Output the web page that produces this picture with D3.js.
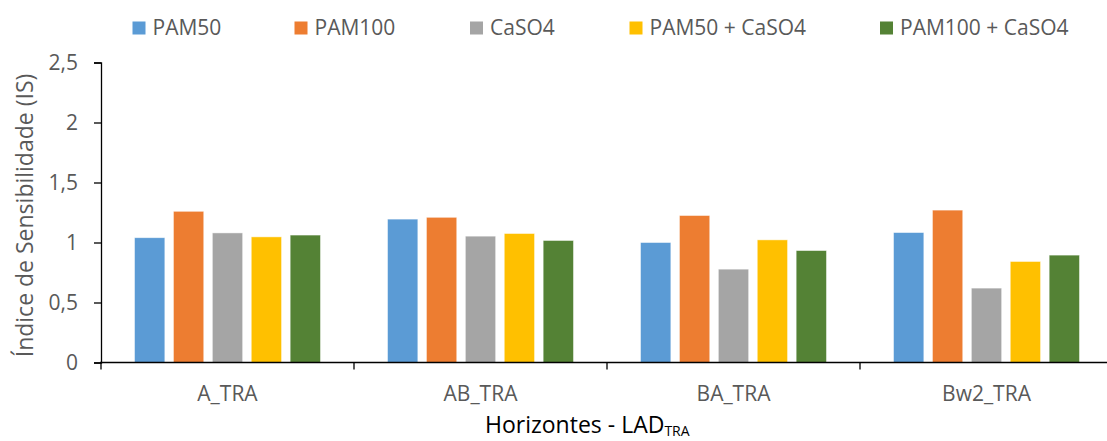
<!DOCTYPE html>
<html>
<head>
<meta charset="utf-8">
<script src="https://cdn.jsdelivr.net/npm/d3@7"></script>
<style>
  html, body { margin: 0; padding: 0; background: #fff; }
  svg { display: block; }
  text { font-family: "Open Sans", "Noto Sans", sans-serif; }
</style>
</head>
<body>
<svg id="chart" width="1107" height="441"></svg>
<script>
// Horizons (categories on the x axis)
const horizons = ["A_TRA", "AB_TRA", "BA_TRA", "Bw2_TRA"];
// Treatments (series)
const treatments = ["PAM50", "PAM100", "CaSO4", "PAM50 + CaSO4", "PAM100 + CaSO4"];
const colors = ["#5B9BD5", "#ED7D31", "#A5A5A5", "#FFC000", "#548235"];
// Sensitivity index per treatment, one value per horizon
const pam50       = [1.04, 1.195, 1.00, 1.083];
const pam100      = [1.26, 1.21, 1.225, 1.27];
const caso4       = [1.08, 1.053, 0.778, 0.62];
const pam50caso4  = [1.047, 1.075, 1.022, 0.842];
const pam100caso4 = [1.062, 1.017, 0.933, 0.895];
const yTicks = [0, 0.5, 1, 1.5, 2, 2.5];

const series = [pam50, pam100, caso4, pam50caso4, pam100caso4];

const svg = d3.select("#chart");
const mLeft = 101, mRight = 1113, mTop = 62.5, mBottom = 362.5;

const x = d3.scaleBand().domain(horizons).range([mLeft, mRight]).paddingInner(0).paddingOuter(0);
const inner = d3.scaleBand().domain(d3.range(treatments.length))
  .range([33.5, x.bandwidth() - 33.5]).paddingInner(0.22).paddingOuter(0);
const y = d3.scaleLinear().domain([0, 2.5]).range([mBottom, mTop]);

// Bars
const groups = svg.append("g").selectAll("g")
  .data(horizons).join("g")
  .attr("transform", d => `translate(${x(d)},0)`);
groups.selectAll("rect")
  .data((h, i) => series.map((s, k) => ({ k, v: s[i] })))
  .join("rect")
  .attr("x", d => inner(d.k))
  .attr("width", inner.bandwidth())
  .attr("y", d => y(d.v))
  .attr("height", d => y(0) - y(d.v))
  .attr("fill", d => colors[d.k])
  .attr("stroke", "#fff")
  .attr("stroke-opacity", 0.6)
  .attr("stroke-width", 0.8);

// Y axis
const yAxis = svg.append("g")
  .attr("transform", `translate(${mLeft},0)`)
  .call(d3.axisLeft(y).tickValues(yTicks).tickSize(7).tickPadding(16)
    .tickFormat(d => String(d).replace(".", ",")));
yAxis.select(".domain").attr("stroke", "#000").attr("stroke-width", 1.3);
yAxis.selectAll(".tick line").attr("stroke", "#000").attr("stroke-width", 1.3);
yAxis.selectAll(".tick text").attr("fill", "#595959").style("font-size", "21px")
  .style("font-family", "'Open Sans', sans-serif");

// X axis: baseline with ticks at category boundaries
const xg = svg.append("g");
xg.append("line")
  .attr("x1", mLeft - 1).attr("x2", mRight).attr("y1", y(0)).attr("y2", y(0))
  .attr("stroke", "#000").attr("stroke-width", 1.5);
const bounds = horizons.map(h => x(h)).concat([mRight]);
xg.selectAll("line.tk").data(bounds).join("line")
  .attr("class", "tk")
  .attr("x1", d => d).attr("x2", d => d)
  .attr("y1", y(0)).attr("y2", y(0) + 7)
  .attr("stroke", "#000").attr("stroke-width", 1.3);
xg.selectAll("text").data(horizons).join("text")
  .attr("x", d => x(d) + x.bandwidth() / 2)
  .attr("y", 401)
  .attr("text-anchor", "middle")
  .attr("fill", "#595959")
  .style("font-size", "21px")
  .text(d => d);

// Axis titles
svg.append("text")
  .attr("transform", `translate(33,${215.5}) rotate(-90)`)
  .attr("text-anchor", "middle")
  .attr("fill", "#595959")
  .style("font-size", "23px")
  .text("Índice de Sensibilidade (IS)");

const xt = svg.append("text")
  .attr("x", 485).attr("y", 433)
  .attr("text-anchor", "start")
  .attr("fill", "#000")
  .style("font-size", "23px");
xt.append("tspan").text("Horizontes - LAD");
xt.append("tspan").attr("dy", 3).style("font-size", "14px").text("TRA");

// Legend
const legendX = [132.5, 294.5, 470, 629.5, 880];
const lg = svg.append("g").selectAll("g").data(treatments).join("g")
  .attr("transform", (d, i) => `translate(${legendX[i]},28)`);
lg.append("rect").attr("x", 0).attr("y", -6.5).attr("width", 13).attr("height", 13)
  .attr("fill", (d, i) => colors[i]);
lg.append("text").attr("x", 20).attr("y", 7)
  .attr("fill", "#595959").style("font-size", "21px")
  .text(d => d);
</script>
</body>
</html>
